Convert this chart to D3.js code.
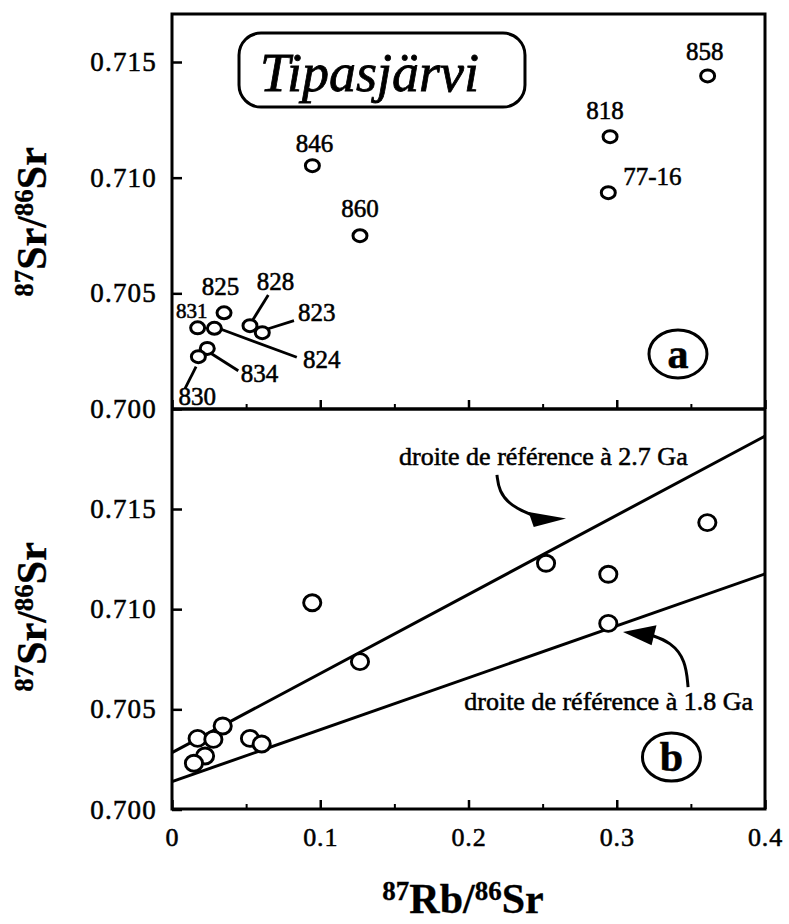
<!DOCTYPE html>
<html><head><meta charset="utf-8">
<script src="https://cdn.jsdelivr.net/npm/d3@7"></script>
<style>body{margin:0;background:#fff} text{stroke:#000;stroke-width:0.55px;paint-order:stroke}</style>
</head><body><svg id="c" width="789" height="924"></svg>
<script>
// ---------- data ----------
const sampleIds = ["858","818","77-16","846","860","825","831","824","828","823","834","830"];
// panel a
const rbSrA = [0.3613,0.2955,0.2943,0.0947,0.1268,0.0351,0.0173,0.0286,0.0526,0.0609,0.0238,0.0178];
const srSrA = [0.71440,0.71177,0.70935,0.71052,0.70749,0.70416,0.70351,0.70349,0.70360,0.70330,0.70262,0.70226];
// panel b (last value = unlabelled extra point)
const rbSrB = [0.3611,0.2943,0.2943,0.0946,0.1268,0.0342,0.0173,0.0279,0.0526,0.0605,0.0223,0.0148,0.2523];
const srSrB = [0.71432,0.71174,0.70929,0.71032,0.70738,0.70417,0.70355,0.70350,0.70355,0.70327,0.70267,0.70231,0.71229];
// reference lines (panel b)
const refLineNames = ["droite de référence à 2.7 Ga","droite de référence à 1.8 Ga"];
const refLineRb = [0, 0.4];
const refLine27 = [0.70284, 0.71864];
const refLine18 = [0.70139, 0.71176];
// ticks
const xTickLabels = [0, 0.1, 0.2, 0.3, 0.4];
const xMinorTicks = [0.05, 0.15, 0.25, 0.35];
const yTicks = [0.700, 0.705, 0.710, 0.715];
const title = "Tipasjärvi";

// ---------- layout ----------
const L = 172, R = 765, T = 14, MID = 409, B = 809;
const serif = "'Liberation Serif','Times New Roman',Times,serif";
const svg = d3.select("#c");
const x = d3.scaleLinear([0, 0.4], [L, R]);
const yA = d3.scaleLinear([0.700, 0.715], [MID, 62]);
const yB = d3.scaleLinear([0.700, 0.715], [809.5, 509]);

// axes
function yAxis(scale) {
  const g = svg.append("g").attr("transform", `translate(${L},0)`)
    .call(d3.axisLeft(scale).tickValues(yTicks).tickSize(-10).tickPadding(15).tickFormat(d3.format(".3f")));
  g.select(".domain").remove();
  g.selectAll("line").attr("stroke", "#000").attr("stroke-width", 2.5);
  g.selectAll("text").attr("font-family", serif).attr("font-size", 27).attr("letter-spacing", 1.2).attr("fill", "#000");
  return g;
}
yAxis(yA);
yAxis(yB);

function xTicks(yPos, labels) {
  const g1 = svg.append("g").attr("transform", `translate(0,${yPos})`)
    .call(d3.axisBottom(x).tickValues(xTickLabels).tickSize(-9).tickPadding(19)
      .tickFormat(d => labels ? (d === 0 ? "0" : d.toFixed(1)) : ""));
  g1.select(".domain").remove();
  g1.selectAll("line").attr("stroke", "#000").attr("stroke-width", 2.5);
  g1.selectAll("text").attr("font-family", serif).attr("font-size", 26).attr("letter-spacing", 0.8).attr("fill", "#000");
  const g2 = svg.append("g").attr("transform", `translate(0,${yPos})`)
    .call(d3.axisBottom(x).tickValues(xMinorTicks).tickSize(-5).tickFormat(""));
  g2.select(".domain").remove();
  g2.selectAll("line").attr("stroke", "#000").attr("stroke-width", 2);
}
xTicks(MID, false);
xTicks(B, true);

// frame
svg.append("rect").attr("x", L).attr("y", T).attr("width", R - L).attr("height", B - T)
  .attr("fill", "none").attr("stroke", "#000").attr("stroke-width", 3);
svg.append("line").attr("x1", L).attr("x2", R).attr("y1", MID).attr("y2", MID)
  .attr("stroke", "#000").attr("stroke-width", 3.5);

// axis titles
function ratioTitle(g, a, b) {
  const t = g.append("text").attr("font-family", serif).attr("font-weight", "bold")
    .attr("text-anchor", "middle").attr("fill", "#000").style("stroke-width", "0.3px");
  t.append("tspan").attr("font-size", 27).attr("dy", -13).text("87");
  t.append("tspan").attr("font-size", 42).attr("dy", 13).text(a + "/");
  t.append("tspan").attr("font-size", 27).attr("dy", -13).text("86");
  t.append("tspan").attr("font-size", 42).attr("dy", 13).text(b);
}
ratioTitle(svg.append("g").attr("transform", "translate(46,222) rotate(-90)"), "Sr", "Sr");
ratioTitle(svg.append("g").attr("transform", "translate(46,617) rotate(-90)"), "Sr", "Sr");
ratioTitle(svg.append("g").attr("transform", "translate(463,913)"), "Rb", "Sr");

// ---------- panel a ----------
const dataA = sampleIds.map((id, i) => ({ id, x: rbSrA[i], y: srSrA[i] }));
const labelLayout = {
  "858": { dx: -3, dy: -16, anchor: "middle" },
  "818": { dx: -5, dy: -18, anchor: "middle" },
  "77-16": { dx: 15, dy: -8, anchor: "start" },
  "846": { dx: 2, dy: -14, anchor: "middle" },
  "860": { dx: 0, dy: -19, anchor: "middle" },
  "825": { dx: -3.5, dy: -18, anchor: "middle" },
  "828": { dx: 25.5, dy: -36, anchor: "middle", lead: [18.3, -30.7, 1.7, -4] },
  "831": { dx: -6, dy: -9.4, anchor: "middle", size: 21 },
  "823": { dx: 35.7, dy: -12, anchor: "start", lead: [31.7, -12, 4.4, -3.4] },
  "824": { dx: 88.7, dy: 40, anchor: "start", lead: [82.4, 29, 4, 0] },
  "834": { dx: 33.4, dy: 33.4, anchor: "start", lead: [31, 22.4, 2.7, 4.4] },
  "830": { dx: -20, dy: 48.3, anchor: "start", lead: [-13.3, 31.6, -2.3, 10] }
};
const gA = svg.append("g");
dataA.forEach(d => {
  const px = x(d.x), py = yA(d.y), lay = labelLayout[d.id];
  if (lay.lead) {
    gA.append("line").attr("x1", px + lay.lead[0]).attr("y1", py + lay.lead[1])
      .attr("x2", px + lay.lead[2]).attr("y2", py + lay.lead[3])
      .attr("stroke", "#000").attr("stroke-width", 2.8);
  }
  gA.append("text").attr("x", px + lay.dx).attr("y", py + lay.dy)
    .attr("text-anchor", lay.anchor).attr("font-family", serif)
    .attr("font-size", lay.size || 25).attr("fill", "#000").text(d.id);
});
gA.selectAll("ellipse").data(dataA).join("ellipse")
  .attr("cx", d => x(d.x)).attr("cy", d => yA(d.y)).attr("rx", 7).attr("ry", 6)
  .attr("fill", "#fff").attr("stroke", "#000").attr("stroke-width", 3);

// title box
svg.append("rect").attr("x", x(0.0452)).attr("y", yA(0.71625))
  .attr("width", x(0.2381) - x(0.0452)).attr("height", yA(0.71305) - yA(0.71625))
  .attr("rx", 22).attr("fill", "none").attr("stroke", "#000").attr("stroke-width", 3);
svg.append("text").attr("x", x(0.0593)).attr("y", yA(0.71375)).attr("font-family", serif)
  .attr("font-style", "italic").attr("font-size", 54).attr("fill", "#000").style("stroke-width", "0.8px").text(title);

// panel tags
function tag(cx, cy, letter) {
  svg.append("ellipse").attr("cx", cx).attr("cy", cy).attr("rx", 29).attr("ry", 24)
    .attr("fill", "none").attr("stroke", "#000").attr("stroke-width", 3);
  svg.append("text").attr("x", cx).attr("y", cy).attr("dy", "0.33em").attr("text-anchor", "middle")
    .attr("font-family", serif).attr("font-weight", "bold").attr("font-size", 42).attr("fill", "#000").text(letter);
}
tag(x(0.3413), yA(0.70238), "a");
tag(x(0.3369), yB(0.70262), "b");

// ---------- panel b ----------
const gB = svg.append("g");
const line = d3.line().x(d => x(d[0])).y(d => yB(d[1]));
[refLine27, refLine18].forEach(v => {
  gB.append("path").attr("d", line(refLineRb.map((r, i) => [r, v[i]])))
    .attr("fill", "none").attr("stroke", "#000").attr("stroke-width", 3);
});
const dataB = rbSrB.map((r, i) => ({ x: r, y: srSrB[i] }));
gB.selectAll("ellipse").data(dataB).join("ellipse")
  .attr("cx", d => x(d.x)).attr("cy", d => yB(d.y)).attr("rx", 8.6).attr("ry", 8)
  .attr("fill", "#fff").attr("stroke", "#000").attr("stroke-width", 2.9);

// annotations
gB.append("text").attr("x", x(0.1531)).attr("y", yB(0.71720)).attr("font-family", serif)
  .attr("font-size", 26).attr("fill", "#000").text(refLineNames[0]);
gB.append("text").attr("x", x(0.3919)).attr("y", yB(0.70497)).attr("text-anchor", "end")
  .attr("font-family", serif).attr("font-size", 26).attr("fill", "#000").text(refLineNames[1]);

const curve = d3.line().x(d => x(d[0])).y(d => yB(d[1])).curve(d3.curveBasis);
const arrow27 = [[0.2192, 0.71670], [0.2205, 0.71590], [0.2285, 0.71515], [0.2440, 0.71466]];
const head27 = [[0.2658, 0.71453], [0.2405, 0.71485], [0.2440, 0.71410]];
const arrow18 = [[0.3481, 0.70611], [0.3465, 0.70745], [0.3366, 0.70836], [0.3225, 0.70872]];
const head18 = [[0.3042, 0.70886], [0.3268, 0.70920], [0.3235, 0.70820]];
[arrow27, arrow18].forEach(a => gB.append("path").attr("d", curve(a)).attr("fill", "none")
  .attr("stroke", "#000").attr("stroke-width", 3));
[head27, head18].forEach(h => gB.append("path").attr("d", line(h) + "Z").attr("fill", "#000"));
</script>
</body></html>
